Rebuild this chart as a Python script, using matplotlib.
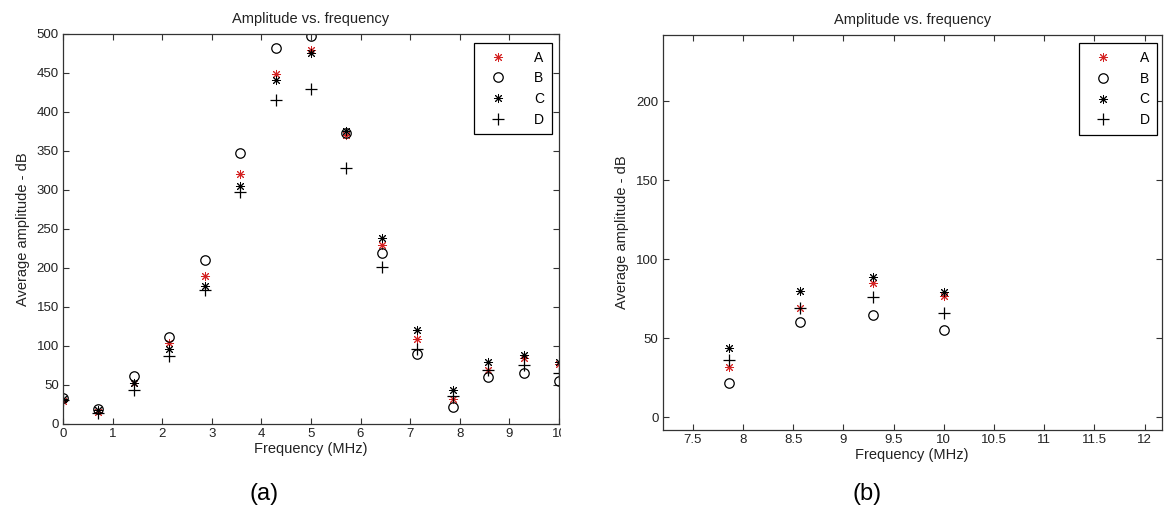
import numpy as np
import matplotlib.pyplot as plt
from matplotlib.ticker import FuncFormatter
from matplotlib.transforms import Bbox

plt.rcParams['font.family'] = ['Liberation Sans Narrow', 'Liberation Sans', 'DejaVu Sans']

# frequencies (MHz) and average amplitude per series
freq = np.array([0, 0.714, 1.43, 2.14, 2.86, 3.57, 4.29, 5.0, 5.71, 6.43, 7.14, 7.86, 8.57, 9.29, 10.0])
amp_A = np.array([30, 16, 52, 104, 190, 321, 449, 480, 370, 230, 109, 32, 69, 85, 77])
amp_B = np.array([33, 19, 61, 112, 210, 347, 482, 497, 373, 219, 90, 22, 60, 65, 55])
amp_C = np.array([32, 18, 53, 96, 177, 305, 441, 476, 376, 238, 120, 44, 80, 89, 79])
amp_D = np.array([31, 14, 44, 87, 172, 297, 416, 429, 328, 201, 96, 36, 69, 76, 66])
series_names = ['A', 'B', 'C', 'D']

# zoomed panel uses the last four frequencies
zoom_idx = slice(11, 15)

red = '#d42222'
ink = '#222222'
star = (8, 2, 0)

fig = plt.figure(figsize=(11.64, 5.23), dpi=100)
ax1 = fig.add_axes([0.0541, 0.1893, 0.4261, 0.7457])
ax2 = fig.add_axes([0.5693, 0.1778, 0.4287, 0.7558])


def draw(ax, sl):
    ax.plot(freq[sl], amp_A[sl], linestyle='none', marker=star, ms=6.5, mew=0.7, color=red, label=series_names[0])
    ax.plot(freq[sl], amp_B[sl], linestyle='none', marker='o', ms=6.8, mew=0.9, mfc='none', mec='black', label=series_names[1])
    ax.plot(freq[sl], amp_C[sl], linestyle='none', marker=star, ms=6.5, mew=0.7, color='black', label=series_names[2])
    ax.plot(freq[sl], amp_D[sl], linestyle='none', marker='+', ms=8, mew=0.9, color='black', label=series_names[3])
    ax.set_title('Amplitude vs. frequency', fontsize=10.5, color=ink, pad=8)
    ax.set_xlabel('Frequency (MHz)', fontsize=10.5, color=ink, labelpad=1)
    ax.set_ylabel('Average amplitude - dB', fontsize=10.5, color=ink, labelpad=5)
    ax.tick_params(direction='in', top=True, right=True, length=4, width=0.8,
                   labelsize=9.5, colors='#333333', labelcolor=ink, pad=3)
    for s in ax.spines.values():
        s.set_color('#333333')
        s.set_linewidth(0.9)
    ax.xaxis.set_major_formatter(FuncFormatter(lambda v, p: '%g' % v))


draw(ax1, slice(None))
ax1.set_xlim(0, 10)
ax1.set_ylim(0, 500)
ax1.set_xticks(np.arange(0, 11, 1))
ax1.set_yticks(np.arange(0, 501, 50))
leg1 = ax1.legend(loc='upper right', bbox_to_anchor=(0.986, 0.977), borderaxespad=0,
                  fancybox=False, edgecolor='black', framealpha=1, fontsize=10,
                  handlelength=2.4, handletextpad=1.4, borderpad=0.55, labelspacing=0.48)
leg1.get_frame().set_linewidth(0.9)

draw(ax2, zoom_idx)
ax2.set_xlim(7.2, 12.17)
ax2.set_ylim(-8, 242)
ax2.set_xticks(np.arange(7.5, 12.01, 0.5))
ax2.set_yticks(np.arange(0, 201, 50))
leg2 = ax2.legend(loc='upper right', bbox_to_anchor=(0.991, 0.978), borderaxespad=0,
                  fancybox=False, edgecolor='black', framealpha=1, fontsize=10,
                  handlelength=2.4, handletextpad=1.4, borderpad=0.55, labelspacing=0.48)
leg2.get_frame().set_linewidth(0.9)

fig.text(0.227, 0.035, '(a)', fontsize=17, family=['Liberation Sans', 'DejaVu Sans'], color='black', ha='center', va='bottom')
fig.text(0.745, 0.035, '(b)', fontsize=17, family=['Liberation Sans', 'DejaVu Sans'], color='black', ha='center', va='bottom')

# the last x tick label of panel (a) is cut at the panel edge
fig.canvas.draw()
lab = ax1.get_xticklabels()[-1]
lab.set_clip_box(Bbox.from_extents(0, 0, 561, 523))
lab.set_clip_on(True)

fig.savefig('out.png', dpi=100)
